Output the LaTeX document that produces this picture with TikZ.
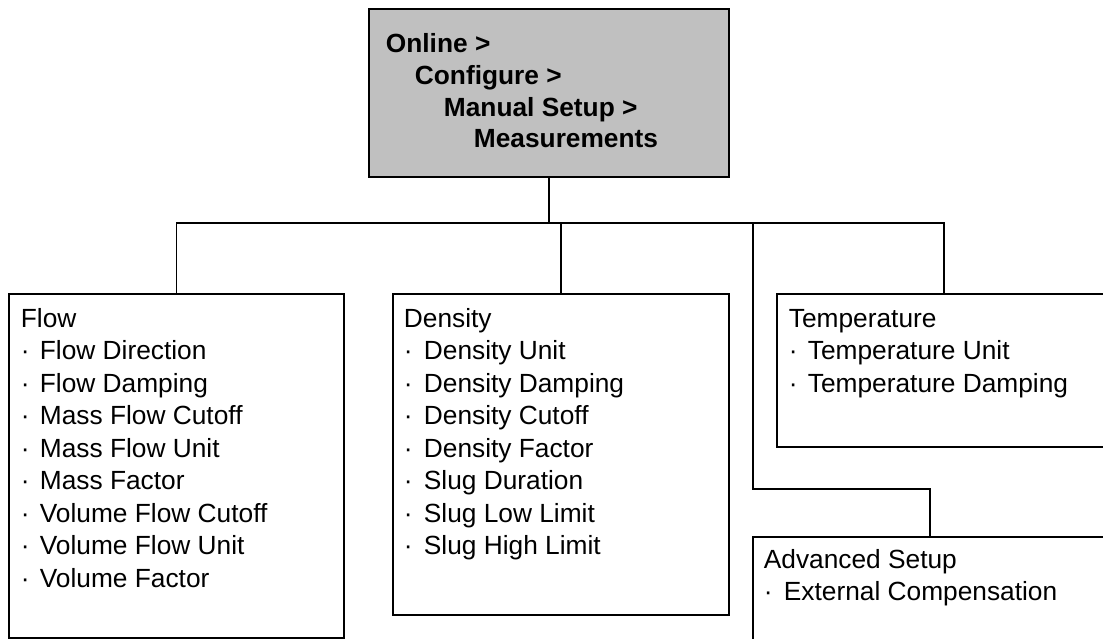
\documentclass[tikz,border=0pt]{standalone}
\usepackage{fontspec}
\setmainfont{Liberation Sans}
\definecolor{boxgray}{RGB}{192,192,192}
\begin{document}
\begin{tikzpicture}[x=1pt,y=-1pt,
  line width=1.8pt,
  frame/.style={draw=black, anchor=north west, inner sep=0pt, outer sep=0pt},
  txt/.style={anchor=base west, inner sep=0pt, font=\fontsize{26.3}{32.5}\selectfont},
  btxt/.style={txt, font=\fontsize{26.3}{32.5}\selectfont\bfseries}]
\useasboundingbox (0,0) rectangle (1103,639);
\clip (0,0) rectangle (1103,639);
% boxes
\node[frame, fill=boxgray, minimum width=360pt, minimum height=168pt] (top) at (369,9) {};
\node[frame, minimum width=335pt, minimum height=344pt] (flow) at (9,294) {};
\node[frame, minimum width=336pt, minimum height=321pt] (dens) at (393,294) {};
\node[frame, minimum width=334pt, minimum height=153pt] (temp) at (777,294) {};
\node[frame, minimum width=354pt, minimum height=163pt] (adv) at (753,537) {};
% top text
\node[btxt] (t1) at (385,53) {Online >};
\node[btxt] (t2) at (414,85) {Configure >};
\node[btxt] (t3) at (443,117) {Manual Setup >};
\node[btxt] (t4) at (473,148) {Measurements};
% flow text
\node[txt] (fh) at (20,327) {Flow};
\foreach \s [count=\i] in {Flow Direction,Flow Damping,Mass Flow Cutoff,Mass Flow Unit,Mass Factor,Volume Flow Cutoff,Volume Flow Unit,Volume Factor}{
  \node[txt] (fb\i) at (20,327+32.5*\i) {·};
  \node[txt] (fi\i) at (39,327+32.5*\i) {\s};
}
% density text
\node[txt] (dh) at (403,327) {Density};
\foreach \s [count=\i] in {Density Unit,Density Damping,Density Cutoff,Density Factor,Slug Duration,Slug Low Limit,Slug High Limit}{
  \node[txt] (db\i) at (403,327+32.5*\i) {·};
  \node[txt] (di\i) at (423,327+32.5*\i) {\s};
}
% temperature text
\node[txt] (th) at (788,327) {Temperature};
\foreach \s [count=\i] in {Temperature Unit,Temperature Damping}{
  \node[txt] (tb\i) at (788,327+32.5*\i) {·};
  \node[txt] (ti\i) at (807,327+32.5*\i) {\s};
}
% advanced text
\node[txt] (ah) at (763,568) {Advanced Setup};
\node[txt] (ab1) at (763,600.5) {·};
\node[txt] (ai1) at (783,600.5) {External Compensation};
% connectors
\coordinate (bus) at (0,223);
\coordinate (br) at (753,223);
\coordinate (elb) at (753,489);
\draw (top.south) -- (top.south |- bus);
\draw (flow.north) -- (flow.north |- bus) -- (temp.north |- bus) -- (temp.north);
\draw (dens.north) -- (dens.north |- bus);
\draw (br) -- (elb) -| (adv.north);
\end{tikzpicture}
\end{document}
